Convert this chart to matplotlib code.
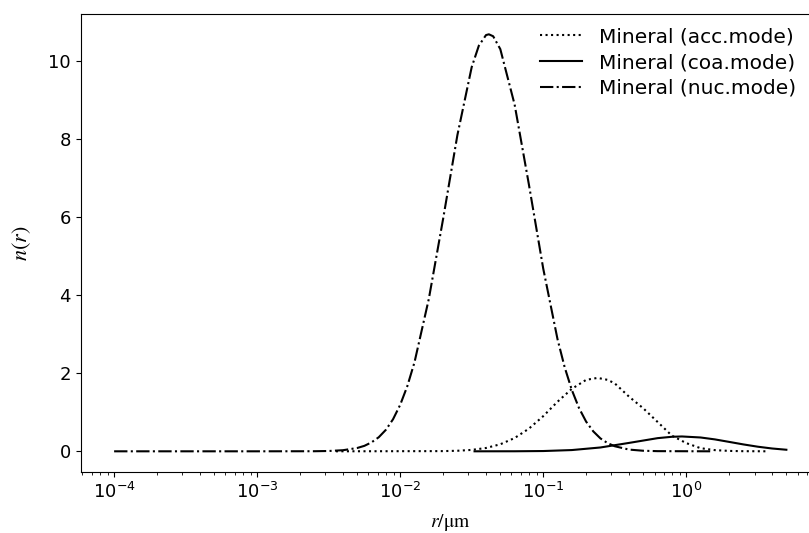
import matplotlib
matplotlib.use('Agg')
import matplotlib.pyplot as plt

# values (r in um, n(r))
r_acc = [0.00355, 0.01995, 0.0251, 0.0316, 0.0398, 0.0501, 0.0631, 0.0794, 0.100,
         0.1259, 0.1585, 0.1995, 0.2399, 0.2818, 0.3162, 0.398, 0.501, 0.631,
         0.794, 1.0, 1.259, 1.585, 1.995, 2.512, 3.74]
n_acc = [0.0, 0.005, 0.014, 0.036, 0.085, 0.18, 0.34, 0.58, 0.90,
         1.27, 1.60, 1.83, 1.88, 1.83, 1.74, 1.40, 1.10, 0.75,
         0.40, 0.21, 0.08, 0.03, 0.01, 0.003, 0.0]

r_coa = [0.0331, 0.0631, 0.100, 0.1585, 0.251, 0.398, 0.631, 0.794, 0.933,
         1.259, 1.585, 1.995, 2.512, 3.162, 3.981, 5.01]
n_coa = [0.0, 0.001, 0.007, 0.032, 0.098, 0.215, 0.337, 0.372, 0.38,
         0.354, 0.305, 0.241, 0.176, 0.118, 0.072, 0.04]

r_nuc = [1e-4, 1e-3, 0.00251, 0.00316, 0.00398, 0.00501, 0.00562, 0.00631, 0.00708,
         0.00794, 0.00891, 0.0100, 0.01122, 0.01259, 0.01585, 0.01995, 0.02512,
         0.03162, 0.03548, 0.03981, 0.04169, 0.04467, 0.05012, 0.0631, 0.07943,
         0.100, 0.1259, 0.1413, 0.1585, 0.1778, 0.1995, 0.2239, 0.2512, 0.2818,
         0.3162, 0.3981, 0.5012, 0.631, 1.47]
n_nuc = [0.0, 0.0, 0.002, 0.008, 0.028, 0.085, 0.14, 0.23, 0.36,
         0.55, 0.82, 1.19, 1.67, 2.28, 3.90, 5.95, 8.10,
         9.84, 10.39, 10.66, 10.68, 10.63, 10.30, 8.88, 6.83,
         4.68, 2.87, 2.15, 1.57, 1.11, 0.76, 0.51, 0.33, 0.21,
         0.13, 0.044, 0.014, 0.004, 0.0]

plt.rcParams['mathtext.fontset'] = 'stix'

fig = plt.figure(figsize=(8.09, 5.33), dpi=100)
# the right edge of the axes runs past the picture, as in the reference
ax = fig.add_axes([80.5 / 809, 61 / 533, 739.5 / 809, 458 / 533])

ax.plot(r_acc, n_acc, color='black', linestyle=':', linewidth=1.5, label='Mineral (acc.mode)')
ax.plot(r_coa, n_coa, color='black', linestyle='-', linewidth=1.5, label='Mineral (coa.mode)')
ax.plot(r_nuc, n_nuc, color='black', linestyle='-.', linewidth=1.5, label='Mineral (nuc.mode)')

ax.set_xscale('log')
ax.set_xlim(10 ** -4.235, 10 ** 0.935)
ax.set_ylim(-0.53, 11.2)
ax.set_yticks([0, 2, 4, 6, 8, 10])
ax.tick_params(labelsize=13)

ax.set_xlabel(r'$r/\mathrm{\mu m}$', fontsize=14, labelpad=7)
ax.set_ylabel(r'$n(r)$', fontsize=16)
ax.yaxis.set_label_coords(-0.064, 0.5)

ax.legend(loc='upper left', bbox_to_anchor=(540 / 809, 1 - 27.4 / 533),
          bbox_transform=fig.transFigure, frameon=False, fontsize=14.5,
          borderpad=0, borderaxespad=0, handlelength=2.09,
          handletextpad=0.84, labelspacing=0.33)

fig.savefig('out.png', dpi=100)
